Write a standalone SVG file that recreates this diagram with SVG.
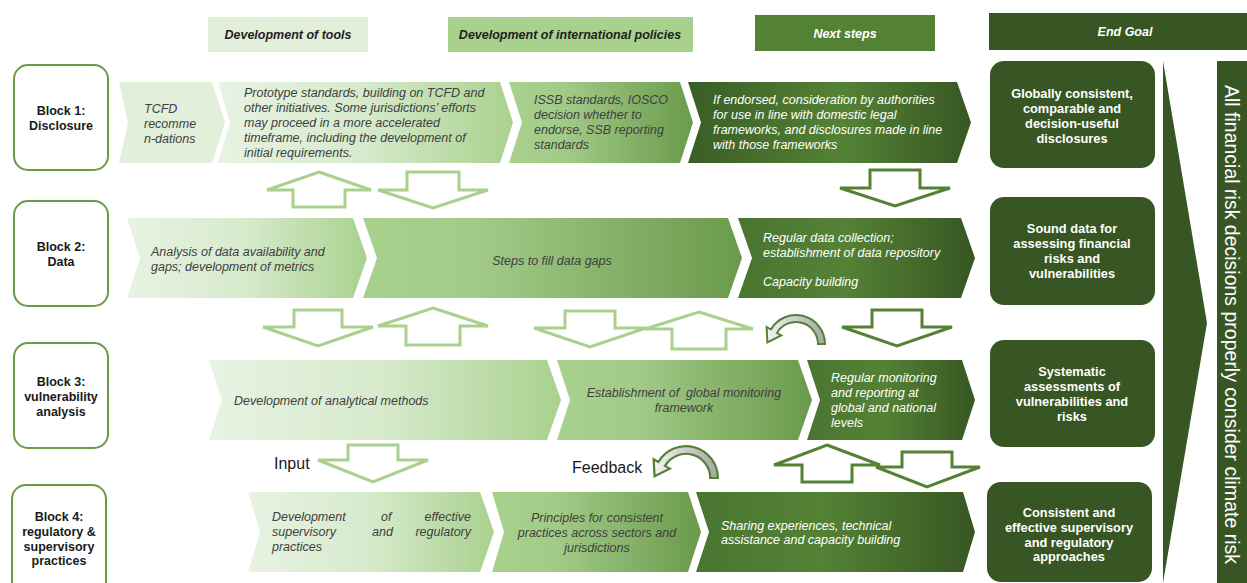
<svg xmlns="http://www.w3.org/2000/svg" width="1247" height="583" viewBox="0 0 1247 583">
<style>
text{font-family:"Liberation Sans",Arial,sans-serif;}
.t{font-size:12.5px;font-style:italic;fill:#404040;}
.tw{font-size:12.5px;font-style:italic;fill:#ffffff;}
.hd{font-size:12.5px;font-style:italic;font-weight:bold;text-anchor:middle;}
.lb{font-size:12.5px;font-weight:bold;fill:#1a1a1a;text-anchor:middle;}
.eg{font-size:12.8px;font-weight:bold;fill:#ffffff;text-anchor:middle;}
.big{font-size:16px;fill:#1a1a1a;}
.blk{fill:#ffffff;stroke:#6b9a4a;stroke-width:2;}
.goal{fill:#375623;}
.oal{fill:#ffffff;stroke:#a9d18e;stroke-width:3;stroke-linejoin:miter;}
.oad{fill:#ffffff;stroke:#548235;stroke-width:3;stroke-linejoin:miter;}
.cur{fill:url(#gGray);stroke:#548235;stroke-width:2;}
</style>
<defs>
<linearGradient id="gLight" x1="0" y1="0" x2="1" y2="0"><stop offset="0" stop-color="#e8f3e3"/><stop offset="0.5" stop-color="#d6eacb"/><stop offset="1" stop-color="#a9d18e"/></linearGradient>
<linearGradient id="gMid" x1="0" y1="0" x2="1" y2="0"><stop offset="0" stop-color="#a9d18e"/><stop offset="0.3" stop-color="#a2cb88"/><stop offset="1" stop-color="#6a9a4b"/></linearGradient>
<linearGradient id="gDark" x1="0" y1="0" x2="1" y2="0"><stop offset="0" stop-color="#4a7531"/><stop offset="0.45" stop-color="#548235"/><stop offset="1" stop-color="#375623"/></linearGradient>
<linearGradient id="gDark1" x1="0" y1="0" x2="1" y2="0"><stop offset="0" stop-color="#3a5d25"/><stop offset="0.55" stop-color="#548235"/><stop offset="1" stop-color="#375623"/></linearGradient>
<linearGradient id="gGray" x1="0" y1="0" x2="1" y2="0"><stop offset="0" stop-color="#f4f4f4"/><stop offset="1" stop-color="#a6a6a6"/></linearGradient>
<path id="curve" d="M29 0 A29 29 0 0 0 -25.1 -14.5 L-29.4 -17 L-28.6 -1.5 L-14.7 -8.5 L-19.05 -11 A22 22 0 0 1 22 0 Z"/>
</defs>

<g id="headers">
<rect x="208" y="17" width="160" height="35" fill="#e2efda"/>
<text class="hd" x="288" y="39" fill="#1f1f1f">Development of tools</text>
<rect x="448" y="17" width="245" height="35" fill="#a9d18e"/>
<text class="hd" x="570" y="39" fill="#1f1f1f">Development of international policies</text>
<rect x="755" y="15" width="180" height="36" fill="#548235"/>
<text class="hd" x="845" y="38" fill="#ffffff">Next steps</text>
<rect x="989" y="13" width="258" height="37" fill="#375623"/>
<text class="hd" x="1125" y="36" fill="#ffffff">End Goal</text>
</g>

<g id="block1">
<rect class="blk" x="14" y="65" width="94" height="105" rx="14"/>
<text class="lb" x="61" y="114.5">Block 1:</text>
<text class="lb" x="61" y="130">Disclosure</text>
</g>
<g id="block2">
<rect class="blk" x="14" y="201" width="94" height="105" rx="14"/>
<text class="lb" x="61" y="251">Block 2:</text>
<text class="lb" x="61" y="266">Data</text>
</g>
<g id="block3">
<rect class="blk" x="14" y="343" width="94" height="105" rx="14"/>
<text class="lb" x="61" y="386">Block 3:</text>
<text class="lb" x="61" y="401">vulnerability</text>
<text class="lb" x="61" y="416">analysis</text>
</g>
<g id="block4">
<rect class="blk" x="12" y="485" width="94" height="120" rx="14"/>
<text class="lb" x="59" y="521">Block 4:</text>
<text class="lb" x="59" y="536">regulatory &amp;</text>
<text class="lb" x="59" y="551">supervisory</text>
<text class="lb" x="59" y="565">practices</text>
</g>

<g id="row1">
<path d="M119 82 L212 82 L225 122.5 L212 163 L119 163 L128 122.5 Z" fill="#e2efda"/>
<text class="t"><tspan x="144" y="112.5">TCFD</tspan><tspan x="144" y="127.5">recomme</tspan><tspan x="144" y="142.5">n-dations</tspan></text>
<path d="M218 82 L500 82 L513 122.5 L500 163 L218 163 L230 122.5 Z" fill="url(#gLight)"/>
<text class="t"><tspan x="244" y="97">Prototype standards, building on TCFD and</tspan><tspan x="244" y="112">other initiatives. Some jurisdictions’ efforts</tspan><tspan x="244" y="127">may proceed in a more accelerated</tspan><tspan x="244" y="142">timeframe, including the development of</tspan><tspan x="244" y="157">initial requirements.</tspan></text>
<path d="M509 82 L680 82 L693 122.5 L680 163 L509 163 L522 122.5 Z" fill="url(#gMid)"/>
<text class="t"><tspan x="534" y="104">ISSB standards, IOSCO</tspan><tspan x="534" y="119">decision whether to</tspan><tspan x="534" y="134">endorse, SSB reporting</tspan><tspan x="534" y="149">standards</tspan></text>
<path d="M688 82 L957 82 L971 122.5 L957 163 L688 163 L701 122.5 Z" fill="url(#gDark1)"/>
<text class="tw"><tspan x="713" y="104">If endorsed, consideration by authorities</tspan><tspan x="713" y="119">for use in line with domestic legal</tspan><tspan x="713" y="134">frameworks, and disclosures made in line</tspan><tspan x="713" y="149">with those frameworks</tspan></text>
</g>

<g id="row2">
<path d="M127 218 L353 218 L367 258 L353 298 L127 298 L140 258 Z" fill="url(#gLight)"/>
<text class="t"><tspan x="151" y="256">Analysis of data availability and</tspan><tspan x="151" y="271">gaps; development of metrics</tspan></text>
<path d="M363 218 L728 218 L742 258 L728 298 L363 298 L377 258 Z" fill="url(#gMid)"/>
<text class="t" x="552" y="265" text-anchor="middle">Steps to fill data gaps</text>
<path d="M738 218 L961 218 L975 258 L961 298 L738 298 L752 258 Z" fill="url(#gDark)"/>
<text class="tw"><tspan x="763" y="242">Regular data collection;</tspan><tspan x="763" y="257">establishment of data repository</tspan><tspan x="763" y="286">Capacity building</tspan></text>
</g>

<g id="row3">
<path d="M209 360 L547 360 L561 400 L547 440 L209 440 L222 400 Z" fill="url(#gLight)"/>
<text class="t" x="234" y="405">Development of analytical methods</text>
<path d="M557 360 L798 360 L812 400 L798 440 L557 440 L570 400 Z" fill="url(#gMid)"/>
<text class="t" text-anchor="middle"><tspan x="684" y="397">Establishment of &#160;global monitoring</tspan><tspan x="684" y="412">framework</tspan></text>
<path d="M807 360 L962 360 L975 400 L962 440 L807 440 L820 400 Z" fill="url(#gDark)"/>
<text class="tw"><tspan x="831" y="382">Regular monitoring</tspan><tspan x="831" y="397">and reporting at</tspan><tspan x="831" y="412">global and national</tspan><tspan x="831" y="427">levels</tspan></text>
</g>

<g id="row4">
<path d="M248 492 L480 492 L494 532 L480 572 L248 572 L260 532 Z" fill="url(#gLight)"/>
<text class="t"><tspan x="272" y="521">Development</tspan><tspan x="381" y="521">of</tspan><tspan x="471" y="521" text-anchor="end">effective</tspan><tspan x="272" y="536">supervisory</tspan><tspan x="372" y="536">and</tspan><tspan x="471" y="536" text-anchor="end">regulatory</tspan><tspan x="272" y="551">practices</tspan></text>
<path d="M492 492 L688 492 L701 532 L688 572 L492 572 L504 532 Z" fill="url(#gMid)"/>
<text class="t" text-anchor="middle"><tspan x="597" y="522">Principles for consistent</tspan><tspan x="597" y="537">practices across sectors and</tspan><tspan x="597" y="552">jurisdictions</tspan></text>
<path d="M696 492 L963 492 L975 532 L963 572 L696 572 L709 532 Z" fill="url(#gDark)"/>
<text class="tw"><tspan x="721" y="530">Sharing experiences, technical</tspan><tspan x="721" y="544">assistance and capacity building</tspan></text>
</g>

<g id="goal1">
<rect class="goal" x="990" y="61" width="165" height="107" rx="14"/>
<text class="eg"><tspan x="1072" y="97.5">Globally consistent,</tspan><tspan x="1072" y="112.5">comparable and</tspan><tspan x="1072" y="127.5">decision-useful</tspan><tspan x="1072" y="142.5">disclosures</tspan></text>
</g>
<g id="goal2">
<rect class="goal" x="990" y="197" width="165" height="108" rx="14"/>
<text class="eg"><tspan x="1072" y="233">Sound data for</tspan><tspan x="1072" y="248">assessing financial</tspan><tspan x="1072" y="263">risks and</tspan><tspan x="1072" y="278">vulnerabilities</tspan></text>
</g>
<g id="goal3">
<rect class="goal" x="990" y="340" width="165" height="107" rx="14"/>
<text class="eg"><tspan x="1072" y="376">Systematic</tspan><tspan x="1072" y="391">assessments of</tspan><tspan x="1072" y="406">vulnerabilities and</tspan><tspan x="1072" y="421">risks</tspan></text>
</g>
<g id="goal4">
<rect class="goal" x="987" y="482" width="165" height="100" rx="14"/>
<text class="eg"><tspan x="1069" y="517">Consistent and</tspan><tspan x="1069" y="532">effective supervisory</tspan><tspan x="1069" y="547">and regulatory</tspan><tspan x="1069" y="561">approaches</tspan></text>
</g>
<g id="final">
<path class="goal" d="M1163 61 L1207 323 L1163 583 Z"/>
<rect class="goal" x="1217" y="61" width="30" height="522"/>
<text transform="translate(1225 85) rotate(90)" font-size="19.5" fill="#ffffff">All financial risk decisions properly consider climate risk</text>
</g>

<g id="connectors">
<path class="oal" d="M319 172 L371 190 L345 190 L345 207 L293 207 L293 190 L267 190 Z"/>
<path class="oal" d="M407 172 L459 172 L459 190 L488 190 L433 208 L378 190 L407 190 Z"/>
<path class="oad" d="M870 170 L920 170 L920 188 L950 188 L895 206 L840 188 L870 188 Z"/>
<path class="oal" d="M294 310 L342 310 L342 327 L373 327 L318 346 L263 327 L294 327 Z"/>
<path class="oal" d="M433 308 L488 326 L460 326 L460 345 L406 345 L406 326 L378 326 Z"/>
<path class="oal" d="M565 311 L615 311 L615 328 L646 328 L590 347 L534 328 L565 328 Z"/>
<path class="oal" d="M699 312 L753 329 L726 329 L726 349 L672 349 L672 329 L645 329 Z"/>
<use href="#curve" class="cur" transform="translate(796 344)"/>
<path class="oad" d="M872 310 L922 310 L922 327 L952 327 L897 346 L842 327 L872 327 Z"/>
<path class="oal" d="M348 445 L398 445 L398 460 L428 460 L373 482 L318 460 L348 460 Z"/>
<text class="big" x="274" y="469">Input</text>
<text class="big" x="572" y="473">Feedback</text>
<use href="#curve" class="cur" transform="translate(686 478) scale(1.1)"/>
<path class="oad" d="M827 445 L880 465 L852 465 L852 482 L802 482 L802 465 L774 465 Z"/>
<path class="oad" d="M902 452 L952 452 L952 467 L980 467 L927 487 L876 467 L902 467 Z"/>
</g>
</svg>
